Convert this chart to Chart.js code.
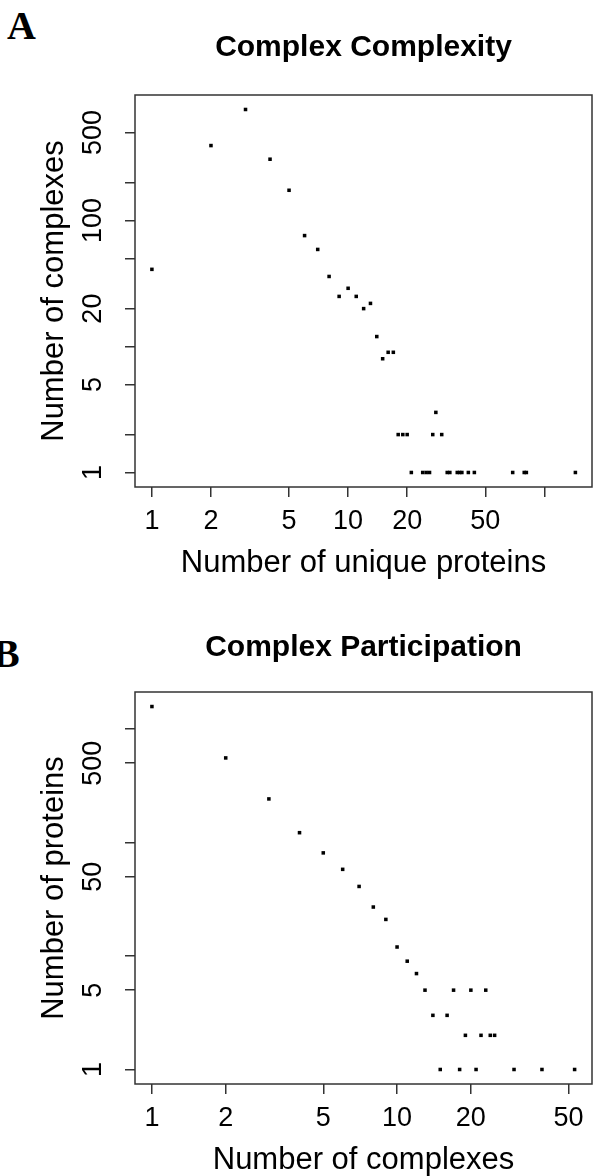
<!DOCTYPE html>
<html>
<head>
<meta charset="utf-8">
<script src="https://cdn.jsdelivr.net/npm/chart.js@4.4.0/dist/chart.umd.min.js"></script>
<style>
html,body{margin:0;padding:0;background:#fff;width:596px;height:1176px;overflow:hidden;}
.panel{position:absolute;left:0;}
.tag{position:absolute;font-family:"Liberation Serif","DejaVu Serif",serif;font-weight:bold;font-size:40px;line-height:40px;color:#000;}
</style>
</head>
<body>
<div class="tag" style="left:7px;top:6px;">A</div>
<div class="tag" style="left:-7px;top:634px;">B</div>
<canvas id="canvasA" class="panel" style="top:0px;" width="596" height="597"></canvas>
<canvas id="canvasB" class="panel" style="top:597px;" width="596" height="597"></canvas>
<script>
// panel A : complex complexity (size of complex vs how many complexes)
var complexSizes  = [1, 2, 3, 4, 5, 6, 7, 8, 9, 10, 11, 12, 13, 14, 15, 16, 17, 18, 19, 20,
                     21, 24, 25, 26, 27, 28, 30, 32, 33, 36, 37, 38, 41, 44, 69, 79, 81, 144];
var complexCounts = [41, 394, 762, 307, 174, 76, 59, 36, 25, 29, 25, 20, 22, 12, 8, 9, 9, 2, 2, 2,
                     1, 1, 1, 1, 2, 3, 2, 1, 1, 1, 1, 1, 1, 1, 1, 1, 1, 1];
var xTicksA  = [1, 2, 5, 10, 20, 50, 100];
var xLabelsA = [1, 2, 5, 10, 20, 50];
var yTicksA  = [1, 2, 5, 10, 20, 50, 100, 200, 500];
var yLabelsA = [1, 5, 20, 100, 500];

// panel B : complex participation (complexes per protein vs how many proteins)
var participation = [1, 2, 3, 4, 5, 6, 7, 8, 9, 10, 11, 12, 13, 14, 15, 16, 17, 18, 19, 20,
                     21, 22, 23, 24, 25, 30, 39, 53];
var proteinCounts = [1577, 556, 242, 122, 81, 58, 41, 27, 21, 12, 9, 7, 5, 3, 1, 3, 5, 1, 2, 5,
                     1, 2, 5, 2, 2, 1, 1, 1];
var xTicksB  = [1, 2, 5, 10, 20, 50];
var xLabelsB = [1, 2, 5, 10, 20, 50];
var yTicksB  = [1, 5, 10, 50, 100, 500, 1000];
var yLabelsB = [1, 5, 50, 500];

var FONT = '"Liberation Sans", Arial, Helvetica, sans-serif';
var INK = '#333';

Chart.defaults.font.family = FONT;
Chart.defaults.color = '#000';

// R style box round the plot region
var boxPlugin = {
  id: 'rbox',
  afterDraw: function(chart){
    var a = chart.chartArea, ctx = chart.ctx;
    ctx.save();
    ctx.strokeStyle = INK;
    ctx.lineWidth = 1.5;
    ctx.strokeRect(a.left, a.top, a.right - a.left, a.bottom - a.top);
    ctx.restore();
  }
};

function pickLabel(list){
  return function(v){ return list.indexOf(v) >= 0 ? String(v) : ''; };
}

function makePlot(canvasId, p){
  var pts = [];
  for(var i = 0; i < p.xs.length; i++){
    pts.push({x: p.xs[i], y: p.ys[i]});
  }
  var ctx = document.getElementById(canvasId).getContext('2d');
  return new Chart(ctx, {
    type: 'scatter',
    data: {
      datasets: [{
        data: pts,
        pointStyle: 'rect',
        pointRadius: 2.5,
        pointBackgroundColor: '#000',
        pointBorderWidth: 0,
        showLine: false
      }]
    },
    options: {
      responsive: false,
      animation: false,
      events: [],
      layout: {padding: {left: 0, right: 1, top: 0, bottom: 0}},
      plugins: {
        legend: {display: false},
        tooltip: {enabled: false},
        title: {
          display: true, text: p.title, fullSize: false, color: '#000',
          font: {family: FONT, size: 30, weight: 'bold'},
          padding: {top: p.titleTop, bottom: 59 - p.titleTop}
        }
      },
      scales: {
        x: {
          type: 'logarithmic', position: 'bottom', bounds: 'data',
          min: p.xMin, max: p.xMax,
          afterBuildTicks: function(s){ s.ticks = p.xTicks.map(function(v){ return {value: v}; }); },
          afterFit: function(s){ s.height = 110; },
          border: {display: false},
          grid: {drawOnChartArea: false, drawTicks: true, tickLength: 10, color: INK, lineWidth: 1.5},
          ticks: {font: {size: 27}, color: '#000', padding: 8, minRotation: 0, maxRotation: 0,
                  autoSkip: false, callback: pickLabel(p.xLabels)},
          title: {display: true, text: p.xTitle, color: '#000', font: {size: 31}, padding: {top: 0, bottom: 15}}
        },
        y: {
          type: 'logarithmic', position: 'left', bounds: 'data',
          min: p.yMin, max: p.yMax,
          afterBuildTicks: function(s){ s.ticks = p.yTicks.map(function(v){ return {value: v}; }); },
          afterFit: function(s){ s.width = 135; },
          border: {display: false},
          grid: {drawOnChartArea: false, drawTicks: true, tickLength: 10, color: INK, lineWidth: 1.5},
          ticks: {font: {size: 27}, color: '#000', padding: 9, minRotation: 90, maxRotation: 90,
                  crossAlign: 'center', autoSkip: false, callback: pickLabel(p.yLabels)},
          title: {display: true, text: p.yTitle, color: '#000', font: {size: 31}, padding: {top: 36, bottom: 0}}
        }
      }
    },
    plugins: [boxPlugin]
  });
}

function initBody(){
  window.chartA = makePlot('canvasA', {
    title: 'Complex Complexity', titleTop: 30,
    xTitle: 'Number of unique proteins', yTitle: 'Number of complexes',
    xs: complexSizes, ys: complexCounts,
    xMin: 0.82, xMax: 175, yMin: 0.767, yMax: 993,
    xTicks: xTicksA, xLabels: xLabelsA, yTicks: yTicksA, yLabels: yLabelsA
  });
  window.chartB = makePlot('canvasB', {
    title: 'Complex Participation', titleTop: 33,
    xTitle: 'Number of complexes', yTitle: 'Number of proteins',
    xs: participation, ys: proteinCounts,
    xMin: 0.853, xMax: 62.4, yMin: 0.745, yMax: 2118,
    xTicks: xTicksB, xLabels: xLabelsB, yTicks: yTicksB, yLabels: yLabelsB
  });
}
initBody();
</script>
</body>
</html>
